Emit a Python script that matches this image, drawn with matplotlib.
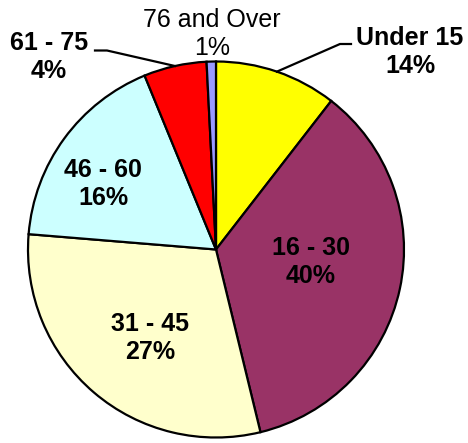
import numpy as np
import matplotlib.pyplot as plt

plt.rcParams['font.family'] = ['Liberation Sans', 'DejaVu Sans']

# 年龄段数据（扇区大小按图中角度估计，标签按图中文字）
groups = ['Under 15', '16 - 30', '31 - 45', '46 - 60', '61 - 75', '76 and Over']
sizes = [10.5, 35.7, 30.1, 17.5, 5.4, 0.8]
pct_labels = ['14%', '40%', '27%', '16%', '4%', '1%']
colors = ['#FFFF00', '#993366', '#FFFFCC', '#CCFFFF', '#FF0000', '#9999FF']

W, H = 468, 443
fig = plt.figure(figsize=(W / 100, H / 100), dpi=100)
ax = fig.add_axes([0, 0, 1, 1])

cx, cy, r = 216, H - 249.5, 188
wedges, _ = ax.pie(sizes, colors=colors, startangle=90, counterclock=False,
                   center=(cx, cy), radius=r, frame=True,
                   wedgeprops=dict(edgecolor='black', linewidth=1.6))
ax.set_xlim(0, W)
ax.set_ylim(0, H)
ax.set_aspect('equal')
ax.axis('off')

def arc_point(w):
    a = np.deg2rad((w.theta1 + w.theta2) / 2)
    return cx + r * np.cos(a), cy + r * np.sin(a)

# 引导线
x0, y0 = arc_point(wedges[0])
ax.plot([x0, 340, 351], [y0, H - 44, H - 44], color='black', lw=1.6)
x4, y4 = arc_point(wedges[4])
ax.plot([x4, 107, 95], [y4, H - 50.5, H - 50.5], color='black', lw=1.6)

# 标签（像素坐标，y 自上而下）
pos = [(410, 52), (311, 262), (150, 338), (103, 184), (49, 57), (212, 34)]
for i in range(len(groups)):
    px, py = pos[i]
    ax.text(px, H - py, groups[i] + '\n' + pct_labels[i], ha='center', va='center',
            fontsize=18, fontweight='normal' if i == 5 else 'bold',
            linespacing=1.22)

fig.savefig('out.png', dpi=100)
